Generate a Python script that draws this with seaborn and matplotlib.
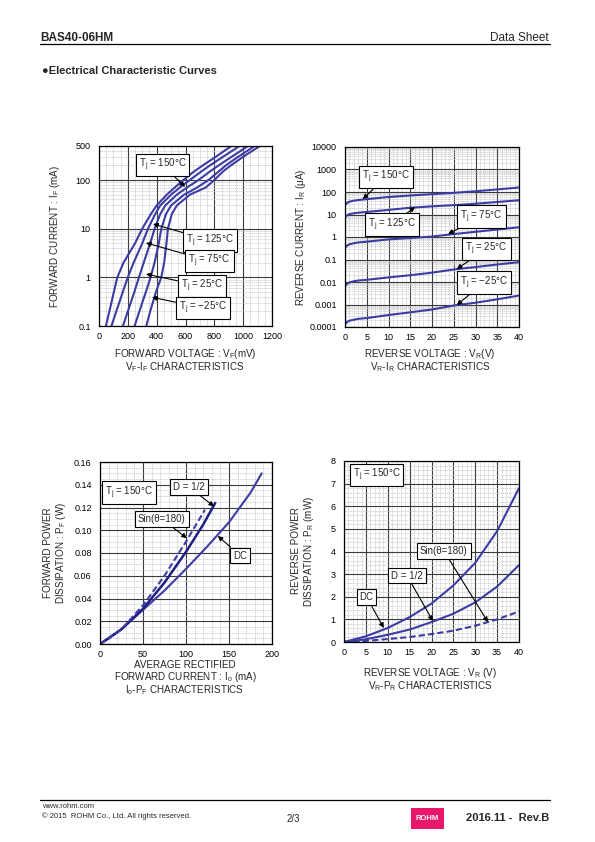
import numpy as np
import pandas as pd
import seaborn as sns
import matplotlib
matplotlib.use('Agg')
import matplotlib.pyplot as plt
from matplotlib.lines import Line2D
from matplotlib.patches import Rectangle
from matplotlib.ticker import MultipleLocator, LogLocator, FixedLocator, NullFormatter

# ---------------- data ----------------
# VF-IF characteristics (forward current in mA, forward voltage in mV)
IF_MA = [0.1, 0.2, 0.5, 1, 2, 5, 10, 20, 30, 50, 70, 100, 150, 200, 300, 500]
VF_150 = [48, 72, 103, 127, 170, 250, 300, 360, 400, 470, 525, 585, 660, 720, 810, 918]
VF_125 = [86, 120, 165, 200, 240, 300, 340, 390, 425, 500, 560, 630, 710, 770, 860, 975]
VF_75 = [166, 200, 245, 277, 310, 355, 386, 425, 460, 540, 610, 690, 770, 830, 920, 1034]
VF_25 = [247, 280, 325, 358, 385, 415, 432, 465, 500, 590, 680, 760, 830, 880, 965, 1080]
VF_M25 = [328, 355, 395, 432, 452, 468, 478, 505, 540, 630, 740, 800, 860, 915, 1000, 1116]

# VR-IR characteristics (reverse voltage in V, reverse current in uA)
VR_V = [0, 0.5, 1, 2, 3, 5, 10, 15, 20, 25, 30, 35, 40]
IR_150 = [26, 33, 37, 41, 44, 48, 60, 70, 80, 92, 108, 130, 158]
IR_125 = [7.4, 9.3, 10.3, 11.3, 12, 13, 16, 20, 23, 26, 30, 36, 43]
IR_75 = [0.32, 0.42, 0.47, 0.53, 0.57, 0.62, 0.78, 0.9, 1.05, 1.35, 1.7, 2.15, 2.7]
IR_25 = [0.0063, 0.0085, 0.0095, 0.0108, 0.0116, 0.0125, 0.016, 0.02, 0.026, 0.036, 0.046, 0.06, 0.076]
IR_M25 = [0.000126, 0.00017, 0.00019, 0.00021, 0.00023, 0.00025, 0.00034, 0.00045, 0.0006, 0.0009, 0.0012, 0.0017, 0.0025]

# Io-PF characteristics (average rectified current in mA, power in W)
IO_DC = [0, 10, 25, 50, 75, 100, 125, 150, 175, 188]
PF_DC = [0, 0.005, 0.013, 0.030, 0.047, 0.066, 0.086, 0.107, 0.133, 0.150]
IO_D = [0, 10, 25, 50, 75, 100, 120, 134]
PF_D = [0, 0.005, 0.013, 0.031, 0.054, 0.081, 0.105, 0.124]
IO_SIN = [0, 10, 25, 50, 75, 100, 122]
PF_SIN = [0, 0.005, 0.013, 0.034, 0.060, 0.090, 0.118]

# VR-PR characteristics (reverse voltage in V, power in mW)
VR2_V = [0, 5, 10, 15, 20, 25, 30, 35, 40]
PR_DC = [0, 0.25, 0.62, 1.1, 1.7, 2.5, 3.5, 4.9, 6.8]
PR_D = [0, 0.12, 0.32, 0.55, 0.88, 1.25, 1.75, 2.45, 3.4]
PR_SIN = [0, 0.05, 0.13, 0.22, 0.35, 0.5, 0.72, 1.0, 1.35]

LINE = "#3c3ca4"
DARK = "#1e1e84"

sns.set_theme(style="white")
plt.rcParams['font.family'] = ['Liberation Sans', 'DejaVu Sans']
plt.rcParams['mathtext.fontset'] = 'custom'
plt.rcParams['mathtext.rm'] = 'Liberation Sans'
plt.rcParams['mathtext.it'] = 'Liberation Sans'

W, H = 595, 842
fig = plt.figure(figsize=(W / 100, H / 100), dpi=100)
fig.patch.set_facecolor('white')


def fx(px):
    return px / W


def fy(py):
    return 1 - py / H


def make_axes(x0, y0, x1, y1):
    ax = fig.add_axes([fx(x0), fy(y1), (x1 - x0) / W, (y1 - y0) / H])
    ax.set_axisbelow(True)
    for s in ax.spines.values():
        s.set_color('black')
        s.set_linewidth(0.9)
    ax.tick_params(which='both', length=0, labelsize=6.5, colors='black')
    ax.tick_params(axis='y', pad=6)
    ax.tick_params(axis='x', pad=4)
    return ax


def style_grid(ax):
    ax.grid(which='minor', color='#c4c4c4', lw=0.5, ls=(0, (2, 1)))
    ax.grid(which='major', color='#3a3a3a', lw=0.8, ls='-')


def curve(ax, x, y, color=LINE, lw=1.5, ls='-'):
    df = pd.DataFrame({'x': x, 'y': y})
    sns.lineplot(data=df, x='x', y='y', ax=ax, color=color, lw=lw, ls=ls,
                 sort=False, estimator=None)
    ax.set_xlabel('')
    ax.set_ylabel('')


def label(ax, text, box, tip=None):
    bb = dict(boxstyle='square,pad=0.3', fc='white', ec='black', lw=0.8)
    if tip is None:
        ax.text(box[0], box[1], text, transform=ax.transAxes, ha='center',
                va='center', fontsize=7, bbox=bb, zorder=5)
    else:
        ax.annotate(text, xy=tip, xycoords='data', xytext=box,
                    textcoords='axes fraction', ha='center', va='center',
                    fontsize=7, bbox=bb, zorder=5,
                    arrowprops=dict(arrowstyle='-|>', color='black', lw=0.8,
                                    mutation_scale=7, shrinkA=0, shrinkB=0))


def tj(t):
    return r'T$_\mathrm{j}$ = ' + t + '°C'


# ---------------- VF-IF ----------------
ax1 = make_axes(99, 146, 272, 326)
ax1.set_yscale('log')
for vf in [VF_150, VF_125, VF_75, VF_25, VF_M25]:
    curve(ax1, vf, IF_MA)
ax1.set_xlim(0, 1200)
ax1.set_ylim(0.1, 500)
ax1.xaxis.set_major_locator(MultipleLocator(200))
ax1.xaxis.set_minor_locator(MultipleLocator(50))
ax1.yaxis.set_major_locator(FixedLocator([0.1, 1, 10, 100, 500]))
ax1.set_yticklabels(['0.1', '1', '10', '100', '500'])
ax1.yaxis.set_minor_locator(LogLocator(base=10, subs=np.arange(2, 10)))
ax1.yaxis.set_minor_formatter(NullFormatter())
style_grid(ax1)
label(ax1, tj('150'), (0.367, 0.894), (597, 72))
label(ax1, tj('125'), (0.642, 0.475), (375, 12.5))
label(ax1, tj('75'), (0.639, 0.361), (326, 5.1))
label(ax1, tj('25'), (0.595, 0.222), (326, 1.17))
label(ax1, tj('\u221225'), (0.601, 0.100), (368, 0.39))

# ---------------- VR-IR ----------------
ax2 = make_axes(345, 147, 519, 327)
ax2.set_yscale('log')
for ir in [IR_150, IR_125, IR_75, IR_25, IR_M25]:
    curve(ax2, VR_V, ir)
ax2.set_xlim(0, 40)
ax2.set_ylim(0.0001, 10000)
ax2.xaxis.set_major_locator(MultipleLocator(5))
ax2.xaxis.set_minor_locator(MultipleLocator(1))
ir_ticks = [0.0001, 0.001, 0.01, 0.1, 1, 10, 100, 1000, 10000]
ax2.yaxis.set_major_locator(FixedLocator(ir_ticks))
ax2.set_yticklabels(['0.0001', '0.001', '0.01', '0.1', '1', '10', '100', '1000', '10000'])
ax2.yaxis.set_minor_locator(LogLocator(base=10, subs=np.arange(2, 10)))
ax2.yaxis.set_minor_formatter(NullFormatter())
style_grid(ax2)
label(ax2, tj('150'), (0.236, 0.833), (4.1, 49))
label(ax2, tj('125'), (0.270, 0.569), (16.1, 21.5))
label(ax2, tj('75'), (0.784, 0.614), (23.7, 1.36))
label(ax2, tj('25'), (0.813, 0.433), (25.7, 0.038))
label(ax2, tj('\u221225'), (0.799, 0.247), (25.7, 0.00095))

# ---------------- Io-PF ----------------
ax3 = make_axes(100, 462, 272, 644)
curve(ax3, IO_DC, PF_DC)
curve(ax3, IO_D, PF_D, color=DARK, lw=1.8)
curve(ax3, IO_SIN, PF_SIN, ls=(0, (3, 1.5)))
ax3.set_xlim(0, 200)
ax3.set_ylim(0, 0.16)
ax3.xaxis.set_major_locator(MultipleLocator(50))
ax3.xaxis.set_minor_locator(MultipleLocator(10))
ax3.yaxis.set_major_locator(MultipleLocator(0.02))
ax3.yaxis.set_minor_locator(MultipleLocator(0.005))
ax3.set_yticklabels([f'{v:.2f}' for v in ax3.get_yticks()])
style_grid(ax3)
label(ax3, tj('150'), (0.169, 0.832))
label(ax3, 'D = 1/2', (0.517, 0.863), (132.6, 0.121))
label(ax3, 'Sin(θ=180)', (0.360, 0.687), (101, 0.093))
label(ax3, 'DC', (0.814, 0.486), (137, 0.095))

# ---------------- VR-PR ----------------
ax4 = make_axes(344, 461, 519, 642)
curve(ax4, VR2_V, PR_DC)
curve(ax4, VR2_V, PR_D)
curve(ax4, VR2_V, PR_SIN, ls=(0, (3, 1.5)))
ax4.set_xlim(0, 40)
ax4.set_ylim(0, 8)
ax4.xaxis.set_major_locator(MultipleLocator(5))
ax4.xaxis.set_minor_locator(MultipleLocator(1))
ax4.yaxis.set_major_locator(MultipleLocator(1))
ax4.yaxis.set_minor_locator(MultipleLocator(0.2))
style_grid(ax4)
label(ax4, tj('150'), (0.186, 0.923))
label(ax4, 'Sin(θ=180)', (0.571, 0.503), (32.9, 0.88))
label(ax4, 'D = 1/2', (0.360, 0.367), (20.3, 0.93))
label(ax4, 'DC', (0.129, 0.249), (9.1, 0.62))

# ---------------- axis titles ----------------
fs = 7.1
fig.text(fx(55), fy(236), r'FORWARD CURRENT : I$_\mathrm{F}$ (mA)', rotation=90,
         ha='center', va='center', fontsize=fs)
fig.text(fx(301), fy(237), r'REVERSE CURRENT : I$_\mathrm{R}$ (μA)', rotation=90,
         ha='center', va='center', fontsize=fs)
fig.text(fx(48), fy(553), 'FORWARD POWER', rotation=90, ha='center', va='center', fontsize=fs)
fig.text(fx(61), fy(553), r'DISSIPATION : P$_\mathrm{F}$ (W)', rotation=90,
         ha='center', va='center', fontsize=fs)
fig.text(fx(296), fy(551), 'REVERSE POWER', rotation=90, ha='center', va='center', fontsize=fs)
fig.text(fx(309), fy(551), r'DISSIPATION : P$_\mathrm{R}$ (mW)', rotation=90,
         ha='center', va='center', fontsize=fs)

fig.text(fx(185), fy(354), r'FORWARD VOLTAGE : V$_\mathrm{F}$(mV)', ha='center', va='center', fontsize=fs)
fig.text(fx(185), fy(367), r'V$_\mathrm{F}$-I$_\mathrm{F}$ CHARACTERISTICS', ha='center', va='center', fontsize=fs)
fig.text(fx(430), fy(354), r'REVERSE VOLTAGE : V$_\mathrm{R}$(V)', ha='center', va='center', fontsize=fs)
fig.text(fx(430), fy(367), r'V$_\mathrm{R}$-I$_\mathrm{R}$ CHARACTERISTICS', ha='center', va='center', fontsize=fs)
fig.text(fx(185), fy(665), 'AVERAGE RECTIFIED', ha='center', va='center', fontsize=fs)
fig.text(fx(185), fy(677), r'FORWARD CURRENT : I$_\mathrm{o}$ (mA)', ha='center', va='center', fontsize=fs)
fig.text(fx(185), fy(690), r'I$_\mathrm{o}$-P$_\mathrm{F}$ CHARACTERISTICS', ha='center', va='center', fontsize=fs)
fig.text(fx(430), fy(673), r'REVERSE VOLTAGE : V$_\mathrm{R}$ (V)', ha='center', va='center', fontsize=fs)
fig.text(fx(430), fy(686), r'V$_\mathrm{R}$-P$_\mathrm{R}$ CHARACTERISTICS', ha='center', va='center', fontsize=fs)

# ---------------- page header / footer ----------------
fig.text(fx(40), fy(38), 'BAS40-06HM', ha='left', va='center', fontsize=8.5, fontweight='bold')
fig.text(fx(549), fy(38), 'Data Sheet', ha='right', va='center', fontsize=8.5)
fig.add_artist(Line2D([fx(40), fx(550)], [fy(44), fy(44)], color='black', lw=0.9))
fig.text(fx(42), fy(71), '●Electrical Characteristic Curves', ha='left', va='center',
         fontsize=8, fontweight='bold', family=['Liberation Sans', 'DejaVu Sans'])

fig.add_artist(Line2D([fx(40), fx(550)], [fy(800), fy(800)], color='black', lw=0.9))
fig.text(fx(42), fy(807), 'www.rohm.com', ha='left', va='center', fontsize=5.5)
fig.text(fx(42), fy(816), '© 2015  ROHM Co., Ltd. All rights reserved.', ha='left', va='center', fontsize=5.5)
fig.text(fx(293), fy(819), '2/3', ha='center', va='center', fontsize=7)
fig.add_artist(Rectangle((fx(411), fy(829)), 33 / W, 21 / H, transform=fig.transFigure,
                         fc='#e8176c', ec='none'))
fig.text(fx(427.5), fy(818), 'ROHM', ha='center', va='center', fontsize=5.5,
         fontweight='bold', color='white')
fig.text(fx(549), fy(818), '2016.11 -  Rev.B', ha='right', va='center', fontsize=8, fontweight='bold')

fig.savefig('out.png', dpi=100)
